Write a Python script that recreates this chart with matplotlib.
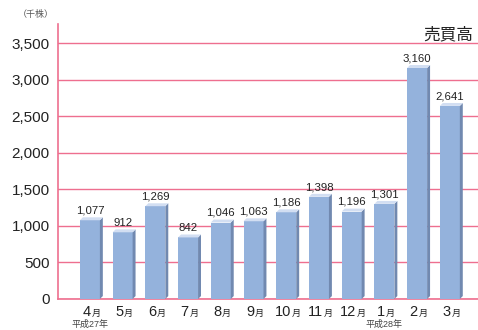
import numpy as np
import matplotlib.pyplot as plt
from matplotlib.patches import Polygon
from matplotlib.offsetbox import TextArea, HPacker, AnnotationBbox

plt.rcParams['font.family'] = ['Liberation Sans', 'Noto Sans CJK JP', 'DejaVu Sans']

months = ["4", "5", "6", "7", "8", "9", "10", "11", "12", "1", "2", "3"]
volume = [1077, 912, 1269, 842, 1046, 1063, 1186, 1398, 1196, 1301, 3160, 2641]
era_labels = {0: "平成27年", 9: "平成28年"}
yticks = [0, 500, 1000, 1500, 2000, 2500, 3000, 3500]

pink = "#ee6f8f"
front = "#94b2dc"
side = "#7189b0"
top = "#d2def2"

fig = plt.figure(figsize=(4.78, 3.30), dpi=100)
ax = fig.add_axes([0.121, 0.094, 0.879, 0.833])

x = np.arange(len(months))
w = 0.61
dx, dy = 0.09, 40   # depth of the fake 3D faces

ax.bar(x, volume, width=w, color=front, zorder=3)
for xi, v in zip(x, volume):
    l, r = xi - w / 2, xi + w / 2
    ax.add_patch(Polygon([(r, 0), (r + dx, dy), (r + dx, v + dy), (r, v)],
                         closed=True, color=side, zorder=3, lw=0))
    ax.add_patch(Polygon([(l, v), (r, v), (r + dx, v + dy), (l + dx, v + dy)],
                         closed=True, color=top, zorder=3, lw=0))
    ax.text(xi, v + dy + 25, f"{v:,}", ha="center", va="bottom",
            fontsize=8.2, color="#222222", zorder=4)

ax.set_xlim(-0.98, 11.86)
ax.set_ylim(0, 3760)
ax.set_yticks(yticks)
ax.set_yticklabels([f"{t:,}" for t in yticks], fontsize=11, color="#222222")
ax.tick_params(axis="y", length=0, pad=6)
ax.set_xticks([])
ax.grid(axis="y", color=pink, lw=1, zorder=1)
for s in ["top", "right"]:
    ax.spines[s].set_visible(False)
ax.spines["left"].set_color(pink)
ax.spines["bottom"].set_color(pink)
ax.spines["left"].set_linewidth(1.2)
ax.spines["bottom"].set_linewidth(1.2)

# month labels: number plus smaller 月
for xi, m in zip(x, months):
    box = HPacker(children=[TextArea(m, textprops=dict(size=10.5, color="#222222")),
                            TextArea("月", textprops=dict(size=6.5, color="#222222"))],
                  align="baseline", pad=0, sep=0.5)
    ab = AnnotationBbox(box, (xi + dx / 2, 0), xybox=(0, -9.5),
                        xycoords="data", boxcoords="offset points",
                        frameon=False, box_alignment=(0.5, 0.5),
                        annotation_clip=False)
    ax.add_artist(ab)

for i, lbl in era_labels.items():
    ax.annotate(lbl, (i, 0), xytext=(0, -18), textcoords="offset points",
                ha="center", va="center", fontsize=6.5, color="#444444",
                annotation_clip=False)

fig.text(0.99, 0.895, "売買高", ha="right", va="center", fontsize=12, color="#222222")
fig.text(0.075, 0.955, "（千株）", ha="center", va="center", fontsize=6.5, color="#555555")

fig.savefig("out.png", dpi=100)
